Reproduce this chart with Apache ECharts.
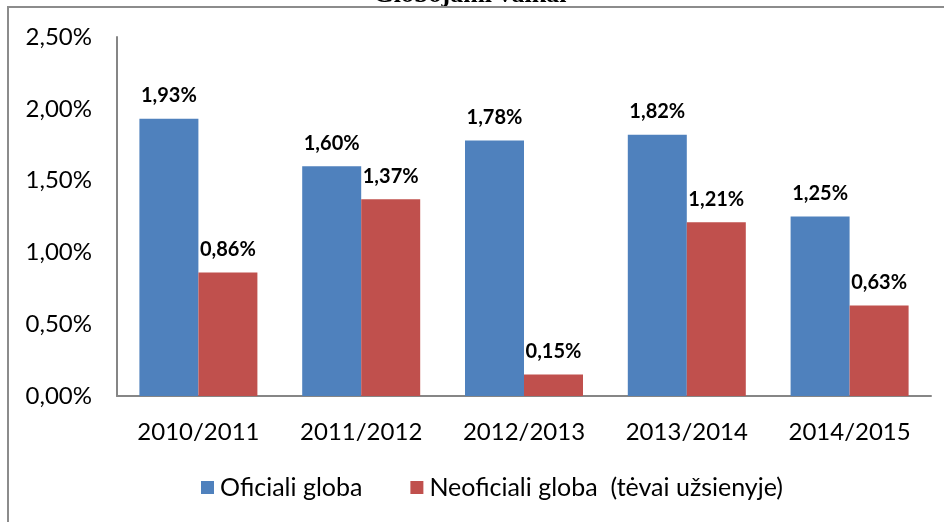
<!DOCTYPE html>
<html>
<head>
<meta charset="utf-8">
<script src="https://cdn.jsdelivr.net/npm/echarts@6/dist/echarts.min.js"></script>
<style>html,body{margin:0;padding:0;background:#fff}#c{width:944px;height:522px}</style>
</head>
<body>
<div id="c"></div>
<script>
const categories = ['2010/2011', '2011/2012', '2012/2013', '2013/2014', '2014/2015'];
const oficiali = [1.93, 1.60, 1.78, 1.82, 1.25];
const neoficiali = [0.86, 1.37, 0.15, 1.21, 0.63];
const seriesNames = ['Oficiali globa', 'Neoficiali globa  (tėvai užsienyje)'];
const titleText = 'Globojami vaikai';

const fmt = v => v.toFixed(2).replace('.', ',') + '%';
const FONT = 'Lato';
const chart = echarts.init(document.getElementById('c'));
chart.setOption({
  animation: false,
  backgroundColor: '#fff',
  grid: { left: 117, right: 13, top: 37, bottom: 126, containLabel: false },
  legend: {
    data: seriesNames,
    bottom: 17,
    left: 196,
    itemWidth: 13, itemHeight: 13, itemGap: 48,
    icon: 'rect',
    textStyle: { fontFamily: FONT, fontSize: 25, color: '#000', padding: [0,0,0,1] }
  },
  xAxis: {
    type: 'category',
    data: categories,
    axisLine: { lineStyle: { color: '#868686', width: 2 } },
    axisTick: { show: false },
    axisLabel: { fontFamily: FONT, fontSize: 24, color: '#000', margin: 24 }
  },
  yAxis: {
    type: 'value',
    min: 0, max: 2.5, interval: 0.5,
    axisLine: { show: true, lineStyle: { color: '#868686', width: 2 } },
    axisTick: { show: false },
    splitLine: { show: false },
    axisLabel: { fontFamily: FONT, fontSize: 24, color: '#000', margin: 25, formatter: v => fmt(v) }
  },
  series: [
    {
      name: seriesNames[0], type: 'bar', data: oficiali,
      barWidth: 59, barGap: '0%',
      itemStyle: { color: '#4F81BD' },
      label: { show: true, position: 'top', distance: 13, fontFamily: FONT, fontWeight: 'bold', fontSize: 20, color: '#000', formatter: p => fmt(p.value) }
    },
    {
      name: seriesNames[1], type: 'bar', data: neoficiali,
      barWidth: 59, barGap: '0%',
      itemStyle: { color: '#C0504D' },
      label: { show: true, position: 'top', distance: 13, fontFamily: FONT, fontWeight: 'bold', fontSize: 20, color: '#000', formatter: p => fmt(p.value) }
    }
  ],
  graphic: [
    { type: 'polyline', shape: { points: [[8, 530], [8, 7], [950, 7]] }, style: { stroke: '#8c8c8c', lineWidth: 2, fill: null }, z: 10 },
    { type: 'text', x: 470, y: 8.5, style: { text: titleText, font: 'bold 26px "Liberation Serif"', fill: '#000', align: 'center', verticalAlign: 'bottom' }, z: 5 }
  ]
});
</script>
</body>
</html>
